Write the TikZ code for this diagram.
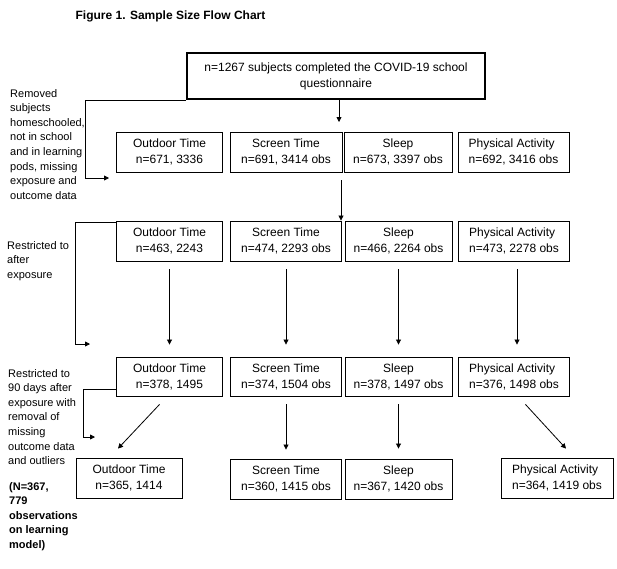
\documentclass[tikz,border=0pt]{standalone}
\usepackage{fontspec}
\setmainfont{Liberation Sans}
\usetikzlibrary{arrows.meta}
\tikzset{
 bx/.style={draw, line width=0.9pt, inner sep=0pt, align=center, font=\fontsize{12}{16}\selectfont},
 lt/.style={anchor=north west, inner sep=0pt, align=left, font=\fontsize{11}{14.6}\selectfont},
 arr/.style={line width=0.8pt, -{Triangle[length=5pt,width=5pt]}},
}
\begin{document}
\begin{tikzpicture}[x=1pt,y=-1pt]
\fill[white] (0,0) rectangle (617,568);
\useasboundingbox (0,0) rectangle (617,568);
\node[font=\bfseries\fontsize{12}{14}\selectfont] (title) at (170.5,16) {Figure 1. Sample Size Flow Chart};
\node[bx, line width=1.8pt, minimum width=298pt, minimum height=46pt] (top) at (336,76) {n=1267 subjects completed the COVID-19 school\\questionnaire};
% row 1
\node[bx, minimum width=106pt, minimum height=40pt] (r1o) at (169.5,152) {Outdoor Time\\n=671, 3336};
\node[bx, minimum width=112pt, minimum height=40pt] (r1s) at (286,152) {Screen Time\\n=691, 3414 obs};
\node[bx, minimum width=108pt, minimum height=40pt] (r1l) at (398,152) {Sleep\\n=673, 3397 obs};
\node[bx, align=left, minimum width=111pt, minimum height=40pt] (r1p) at (513.5,152) {Physical Activity\\n=692, 3416 obs};
% row 2
\node[bx, minimum width=106pt, minimum height=40pt] (r2o) at (169.5,241) {Outdoor Time\\n=463, 2243};
\node[bx, minimum width=111pt, minimum height=40pt] (r2s) at (286,241) {Screen Time\\n=474, 2293 obs};
\node[bx, minimum width=107pt, minimum height=40pt] (r2l) at (398.5,241) {Sleep\\n=466, 2264 obs};
\node[bx, align=left, minimum width=111pt, minimum height=40pt] (r2p) at (514,241) {Physical Activity\\n=473, 2278 obs};
% row 3
\node[bx, minimum width=106pt, minimum height=39pt] (r3o) at (169.5,376.5) {Outdoor Time\\n=378, 1495};
\node[bx, minimum width=111pt, minimum height=39pt] (r3s) at (286,376.5) {Screen Time\\n=374, 1504 obs};
\node[bx, minimum width=107pt, minimum height=39pt] (r3l) at (398.5,376.5) {Sleep\\n=378, 1497 obs};
\node[bx, align=left, minimum width=111pt, minimum height=39pt] (r3p) at (514,376.5) {Physical Activity\\n=376, 1498 obs};
% row 4
\node[bx, minimum width=106pt, minimum height=40pt] (r4o) at (129,478) {Outdoor Time\\n=365, 1414};
\node[bx, minimum width=111pt, minimum height=40pt] (r4s) at (286,479) {Screen Time\\n=360, 1415 obs};
\node[bx, minimum width=107pt, minimum height=40pt] (r4l) at (398.5,479) {Sleep\\n=367, 1420 obs};
\node[bx, align=left, minimum width=112pt, minimum height=40pt] (r4p) at (557,478) {Physical Activity\\n=364, 1419 obs};
% left texts
\node[lt] (l1) at (10,89) {Removed\\subjects\\homeschooled,\\not in school\\and in learning\\pods, missing\\exposure and\\outcome data};
\node[lt] (l2) at (7,241) {Restricted to\\after\\exposure};
\node[lt] (l3) at (8,369) {Restricted to\\90 days after\\exposure with\\removal of\\missing\\outcome data\\and outliers};
\node[lt, font=\bfseries\fontsize{11}{14.5}\selectfont] (l4) at (9,482) {(N=367,\\779\\observations\\on learning\\model)};
% connectors
\coordinate (t1) at (339,122);
\draw[arr] ([xshift=3pt]top.south) -- (t1);
\coordinate (s1) at (341,180);
\draw[arr] (s1) -- (s1 |- r2s.north);
\coordinate (c1b) at (109,178);
\draw[arr] (top.south west) -- ++(-101,0) |- (c1b);
\coordinate (c2b) at (90,344);
\draw[arr] ([yshift=-2pt]r2o.north west) -- ++(-41,0) |- (c2b);
\coordinate (c3b) at (95,437);
\draw[arr] ([yshift=7pt]r3o.south west) -- ++(-33,0) |- (c3b);
\draw[arr] ([yshift=-8pt]r2o.south) -- ([yshift=12pt]r3o.north);
\draw[arr] ([yshift=-8pt]r2s.south) -- ([yshift=12pt]r3s.north);
\draw[arr] ([yshift=-8pt]r2l.south) -- ([yshift=12pt]r3l.north);
\draw[arr] ([xshift=3pt,yshift=-8pt]r2p.south) -- ([xshift=3pt,yshift=12pt]r3p.north);
\draw[arr] ([xshift=-10pt,yshift=-8pt]r3o.south) -- ([xshift=-11pt,yshift=9pt]r4o.north);
\draw[arr] ([yshift=-8pt]r3s.south) -- ([yshift=9pt]r4s.north);
\draw[arr] ([yshift=-8pt]r3l.south) -- ([yshift=10pt]r4l.north);
\draw[arr] ([xshift=11.5pt,yshift=-8pt]r3p.south) -- ([xshift=9pt,yshift=9pt]r4p.north);
\end{tikzpicture}
\end{document}
